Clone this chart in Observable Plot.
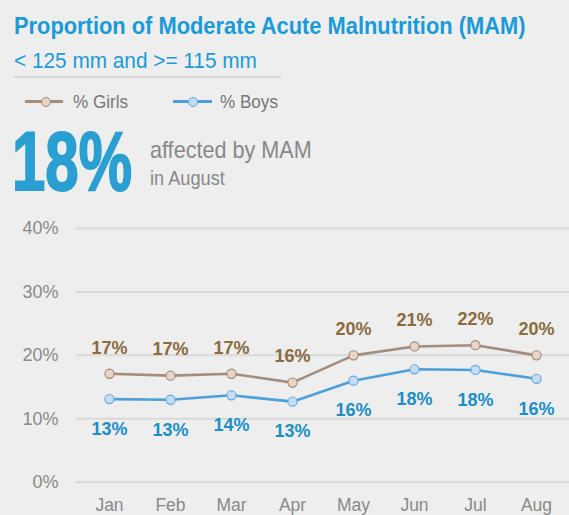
<!DOCTYPE html>
<html>
<head>
<meta charset="utf-8">
<script src="https://cdn.jsdelivr.net/npm/d3@7"></script>
<script src="https://cdn.jsdelivr.net/npm/@observablehq/plot@0.6"></script>
<style>
  html, body { margin: 0; padding: 0; background: #eeeeee; }
  body { width: 569px; height: 515px; overflow: hidden; font-family: "Liberation Sans", Arial, sans-serif; }
  #header { position: relative; width: 569px; height: 200px; }
  .t { position: absolute; white-space: nowrap; line-height: 1; transform-origin: 0 0; }
  .sw-line { position: absolute; height: 3px; }
  .sw-dot { position: absolute; width: 8px; height: 8px; border-radius: 50%; border: 1px solid; }
</style>
</head>
<body>
<div id="header">
  <div class="t" style="left:14px; top:14.5px; font-size:23px; font-weight:bold; color:#1a9bd7; transform:scaleX(0.95);">Proportion of Moderate Acute Malnutrition (MAM)</div>
  <div class="t" style="left:14px; top:49.7px; font-size:22px; color:#1a9bd7; transform:scaleX(0.945);">&lt; 125 mm and &gt;= 115 mm</div>
  <div style="position:absolute; left:14px; top:75.7px; width:267px; height:2px; background:#d6d6d6;"></div>

  <div class="sw-line" style="left:25px; top:100.2px; width:38px; background:#a38d7d;"></div>
  <div class="sw-dot" style="left:41px; top:96.7px; background:#e8d4c6; border-color:#9e8676;"></div>
  <div class="t" style="left:73px; top:93.1px; font-size:18px; color:#777777; transform:scaleX(0.95);">% Girls</div>

  <div class="sw-line" style="left:173px; top:100.2px; width:39px; background:#4c9fd9;"></div>
  <div class="sw-dot" style="left:188px; top:96.7px; background:#c5dcf4; border-color:#5fa9e3;"></div>
  <div class="t" style="left:220px; top:93.1px; font-size:18px; color:#777777; transform:scaleX(0.95);">% Boys</div>

  <div class="t" style="left:12px; top:118.9px; font-size:84px; font-weight:bold; color:#2a9fd1; -webkit-text-stroke:2px #2a9fd1; transform:scaleX(0.714);">18%</div>
  <div class="t" style="left:150px; top:138px; font-size:24px; color:#888888; transform:scaleX(0.9);">affected by MAM</div>
  <div class="t" style="left:150px; top:168.1px; font-size:20px; color:#888888; transform:scaleX(0.91);">in August</div>
</div>
<div id="chart"></div>
<script>
const months = ["Jan", "Feb", "Mar", "Apr", "May", "Jun", "Jul", "Aug"];
const girls = [17.1, 16.8, 17.1, 15.7, 20.0, 21.4, 21.6, 20.0];
const boys = [13.1, 13.0, 13.7, 12.7, 16.0, 17.8, 17.7, 16.3];
const yTicks = [0, 10, 20, 30, 40];

const girlsRows = months.map((m, i) => ({month: m, value: girls[i]}));
const boysRows = months.map((m, i) => ({month: m, value: boys[i]}));

const chart = Plot.plot({
  width: 569,
  height: 315,
  marginTop: 28,
  marginBottom: 33.3,
  marginLeft: 76,
  marginRight: 0,
  style: {background: "#eeeeee", fontFamily: "'Liberation Sans', Arial, sans-serif", overflow: "visible"},
  x: {type: "point", domain: months, range: [106, 539.5], padding: 0},
  y: {domain: [0, 40]},
  marks: [
    Plot.ruleY(yTicks, {stroke: "#d9d9d9", strokeWidth: 2}),
    Plot.axisY(yTicks, {tickSize: 0, tickPadding: 18, tickFormat: d => d + "%", fontSize: 18, fill: "#8a8a8a", label: null}),
    Plot.axisX(months, {tickSize: 0, tickPadding: 16, fontSize: 17.5, fill: "#8a8a8a", label: null}),
    Plot.line(girlsRows, {x: "month", y: "value", stroke: "#a38d7d", strokeWidth: 2.6}),
    Plot.line(boysRows, {x: "month", y: "value", stroke: "#4c9fd9", strokeWidth: 2.6}),
    Plot.dot(girlsRows, {x: "month", y: "value", r: 4.6, fill: "#e8d4c6", stroke: "#9e8676", strokeWidth: 1.1}),
    Plot.dot(boysRows, {x: "month", y: "value", r: 4.6, fill: "#c5dcf4", stroke: "#5fa9e3", strokeWidth: 1.1}),
    Plot.text(girlsRows, {x: "month", y: "value", text: d => Math.round(d.value) + "%", dy: -26, fill: "#8b6b40", fontWeight: "bold", fontSize: 18}),
    Plot.text(boysRows, {x: "month", y: "value", text: d => Math.round(d.value) + "%", dy: 30, fill: "#1b8fc6", fontWeight: "bold", fontSize: 18})
  ]
});
document.getElementById("chart").appendChild(chart);
</script>
</body>
</html>
